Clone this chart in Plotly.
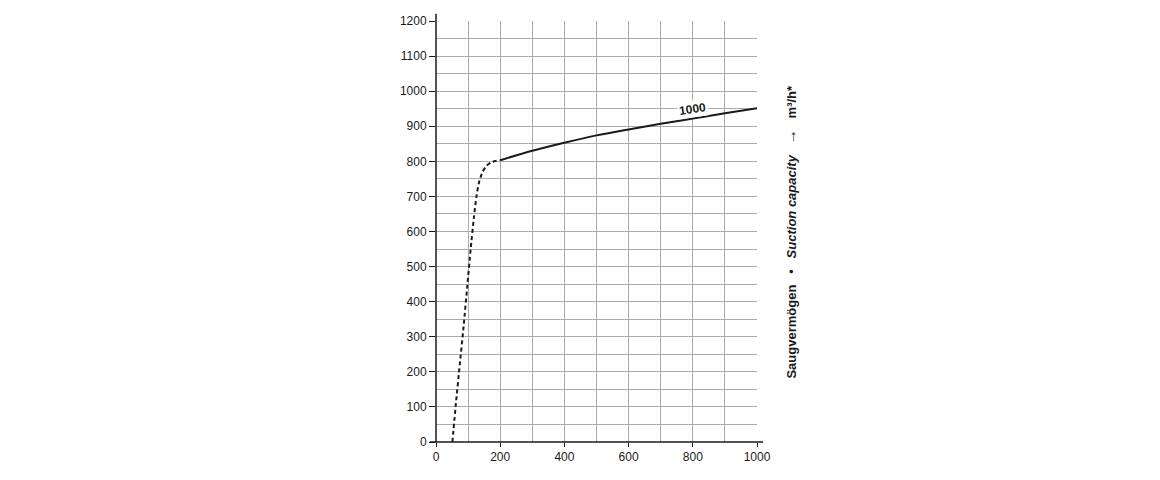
import plotly.graph_objects as go

# Suction capacity curve of the 1000 m³/h pump
dashed_p = [51, 62, 74, 86, 97, 108, 118, 126, 134, 145, 158, 172, 186, 200]
dashed_s = [0, 110, 220, 330, 440, 550, 640, 700, 740, 770, 788, 797, 801, 803]
solid_p = [200, 300, 400, 500, 600, 700, 800, 900, 1000]
solid_s = [803, 830, 853, 874, 891, 907, 922, 937, 951]

x_ticks = [0, 200, 400, 600, 800, 1000]
y_ticks = list(range(0, 1201, 100))
curve_label = "1000"

FONT = "Liberation Sans, Arial, sans-serif"
INK = "#1a1a1a"

fig = go.Figure()
fig.add_trace(go.Scatter(
    x=dashed_p, y=dashed_s, mode="lines",
    line=dict(color=INK, width=2, dash="4px,3px", shape="spline", smoothing=0.6),
    hoverinfo="skip", showlegend=False))
fig.add_trace(go.Scatter(
    x=solid_p, y=solid_s, mode="lines",
    line=dict(color=INK, width=2, shape="spline", smoothing=1.0),
    hoverinfo="skip", showlegend=False))

grid = "#ababab"
fig.update_xaxes(
    range=[0, 1000], tickvals=x_ticks, ticktext=[str(v) for v in x_ticks],
    showgrid=True, gridcolor=grid, gridwidth=1,
    minor=dict(dtick=100, showgrid=True, gridcolor=grid, gridwidth=1),
    ticks="outside", ticklen=4, tickcolor=INK, showline=False, zeroline=False,
    tickfont=dict(family=FONT, size=12, color=INK), fixedrange=True)
fig.update_yaxes(
    range=[0, 1200], tickvals=y_ticks, ticktext=[str(v) for v in y_ticks],
    showgrid=True, gridcolor=grid, gridwidth=1,
    minor=dict(dtick=50, showgrid=True, gridcolor=grid, gridwidth=1),
    ticks="outside", ticklen=6, tickcolor=INK, showline=False, zeroline=False,
    tickfont=dict(family=FONT, size=12, color=INK), fixedrange=True)

# axis lines that run a little past the grid
fig.add_shape(type="line", xref="paper", yref="paper", x0=0, x1=0, y0=0, y1=1.017,
              line=dict(color=INK, width=1.5))
fig.add_shape(type="line", xref="paper", yref="paper", x0=-0.019, x1=1.019, y0=0, y1=0,
              line=dict(color=INK, width=1.5))

# curve label
fig.add_annotation(x=800, y=950, xref="x", yref="y", text="<b>" + curve_label + "</b>",
                   showarrow=False, textangle=-8, bgcolor="white",
                   font=dict(family=FONT, size=12, color=INK), borderpad=1)

# right-hand axis title
fig.add_annotation(
    x=1.137, y=0.501, xref="paper", yref="paper", showarrow=False, textangle=-90,
    text=("<b>Saugvermögen</b>   •   <b><i>Suction capacity</i></b>   "
          "<span style='font-size:15px'>→</span>   <b>m³/h*</b>"),
    font=dict(family=FONT, size=13, color=INK))

fig.update_layout(
    width=1160, height=480,
    margin=dict(l=436, r=403, t=21, b=38),
    paper_bgcolor="white", plot_bgcolor="white",
)

fig.write_html("out.html", config={"displayModeBar": False})
